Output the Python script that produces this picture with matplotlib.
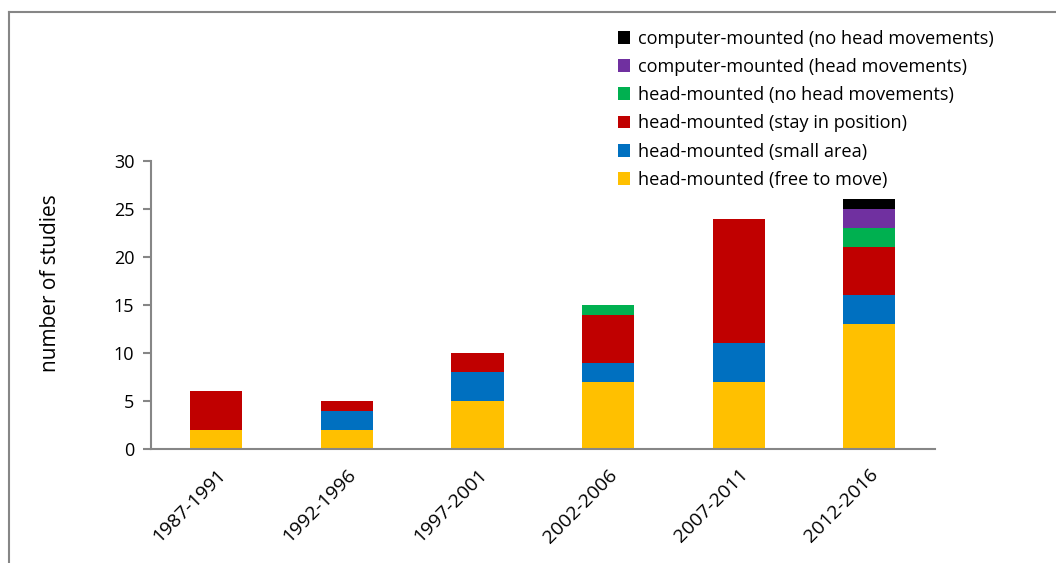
import numpy as np
import matplotlib.pyplot as plt
from matplotlib.lines import Line2D
from matplotlib.patches import Patch

plt.rcParams['font.family'] = ['Open Sans', 'DejaVu Sans']

periods = ["1987-1991", "1992-1996", "1997-2001", "2002-2006", "2007-2011", "2012-2016"]

# stacked from bottom to top
series_names = [
    "head-mounted (free to move)",
    "head-mounted (small area)",
    "head-mounted (stay in position)",
    "head-mounted (no head movements)",
    "computer-mounted (head movements)",
    "computer-mounted (no head movements)",
]
free_to_move = [2, 2, 5, 7, 7, 13]
small_area = [0, 2, 3, 2, 4, 3]
stay_in_position = [4, 1, 2, 5, 13, 5]
hm_no_head = [0, 0, 0, 1, 0, 2]
cm_head = [0, 0, 0, 0, 0, 2]
cm_no_head = [0, 0, 0, 0, 0, 1]
colors = ["#FFC000", "#0070C0", "#C00000", "#00B050", "#7030A0", "#000000"]

values = [free_to_move, small_area, stay_in_position, hm_no_head, cm_head, cm_no_head]

fig = plt.figure(figsize=(10.56, 5.63), dpi=100)
ax = fig.add_axes([0.143, 0.2025, 0.742, 0.5115])

x = np.arange(len(periods))
bottom = np.zeros(len(periods))
for vals, col in zip(values, colors):
    ax.bar(x, vals, width=0.4, bottom=bottom, color=col, edgecolor='none')
    bottom += np.array(vals)

grey = "#868686"
ax.set_xlim(-0.5, len(periods) - 0.5)
ax.set_ylim(0, 30)
ax.set_yticks(range(0, 31, 5))
ax.set_xticks(x)
ax.set_xticklabels(periods, rotation=45, ha='right', rotation_mode='anchor')
for s in ['top', 'right']:
    ax.spines[s].set_visible(False)
for s in ['left', 'bottom']:
    ax.spines[s].set_color(grey)
    ax.spines[s].set_linewidth(1.5)
ax.tick_params(axis='y', length=6, width=1.5, color=grey, labelsize=13, pad=6)
ax.tick_params(axis='x', length=0, labelsize=14, pad=12)
ax.set_ylabel("number of studies", fontsize=15)
ax.yaxis.set_label_coords(-0.115, 0.576)

handles = [Patch(facecolor=c, edgecolor='none') for c in colors][::-1]
labels = series_names[::-1]
fig.legend(handles, labels, loc='upper left', bbox_to_anchor=(0.578, 0.96),
           frameon=False, fontsize=13.1, handlelength=0.7, handleheight=0.7,
           handletextpad=0.4, labelspacing=0.56, borderaxespad=0)

# outer chart border
fig.add_artist(Line2D([0.0085, 1.0], [0.979, 0.979], color=grey, lw=1.5))
fig.add_artist(Line2D([0.0085, 0.0085], [0.0, 0.979], color=grey, lw=1.5))

fig.savefig("out.png", dpi=100)
